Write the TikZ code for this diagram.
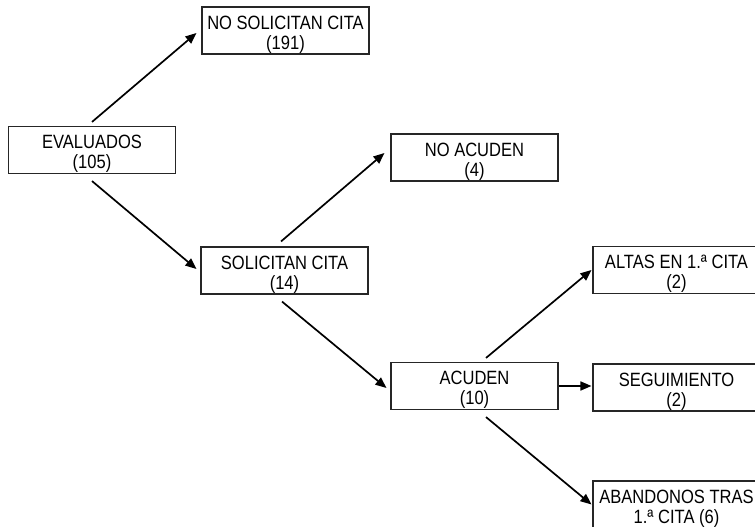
\documentclass[tikz,border=0pt]{standalone}
\usepackage{fontspec}
\newfontfamily\boxfont[FakeStretch=0.86]{Liberation Sans}
\usetikzlibrary{arrows.meta}
\newcommand\twolines[2]{\raisebox{-5bp}[\height][\depth]{\begin{tabular}{@{}c@{}}#1\\#2\end{tabular}}}
\begin{document}
\begin{tikzpicture}[x=1bp,y=-1bp,
  box/.style={draw=black!85,line width=1.1bp,minimum width=167bp,minimum height=47bp,
    inner sep=0pt,font=\boxfont\fontsize{19.3}{19.3}\selectfont},
  arr/.style={line width=1.7bp,-{Triangle[length=11bp,width=9bp]}}]
\clip (0,0) rectangle (755,527);
\fill[white] (0,0) rectangle (755,527);
\node[box] (eva) at (92,150) {\twolines{EVALUADOS}{(105)}};
\node[box] (nosol) at (285.5,30.5) {\twolines{NO SOLICITAN CITA}{(191)}};
\node[box] (sol) at (284.5,270.5) {\twolines{SOLICITAN CITA}{(14)}};
\node[box] (noacu) at (474.5,157.5) {\twolines{NO ACUDEN}{(4)}};
\node[box] (acu) at (474.5,386) {\twolines{ACUDEN}{(10)}};
\node[box] (altas) at (676.5,270) {\twolines{ALTAS EN 1.ª CITA}{(2)}};
\node[box] (seg) at (676.5,387.5) {\twolines{SEGUIMIENTO}{(2)}};
\node[box] (aban) at (676.5,504.5) {\twolines{ABANDONOS TRAS}{1.ª CITA (6)}};
\draw[arr] ([yshift=4bp]eva.north) -- ([xshift=-5bp,yshift=-2.5bp]nosol.west);
\draw[arr] ([yshift=-7bp]eva.south) -- ([xshift=-4bp,yshift=1.5bp]sol.west);
\draw[arr] ([xshift=-3.5bp,yshift=5bp]sol.north) -- ([xshift=-6bp,yshift=4.5bp]noacu.west);
\draw[arr] ([xshift=-2.5bp,yshift=-7bp]sol.south) -- ([xshift=-4bp,yshift=-2bp]acu.west);
\draw[arr] ([xshift=11.5bp,yshift=4bp]acu.north) -- ([xshift=-1bp]altas.west);
\draw[arr] (acu.east) -- ([xshift=-1bp]acu.east -| seg.west);
\draw[arr] ([xshift=11.5bp,yshift=-7bp]acu.south) -- ([xshift=-1bp]aban.west);
\end{tikzpicture}
\end{document}
